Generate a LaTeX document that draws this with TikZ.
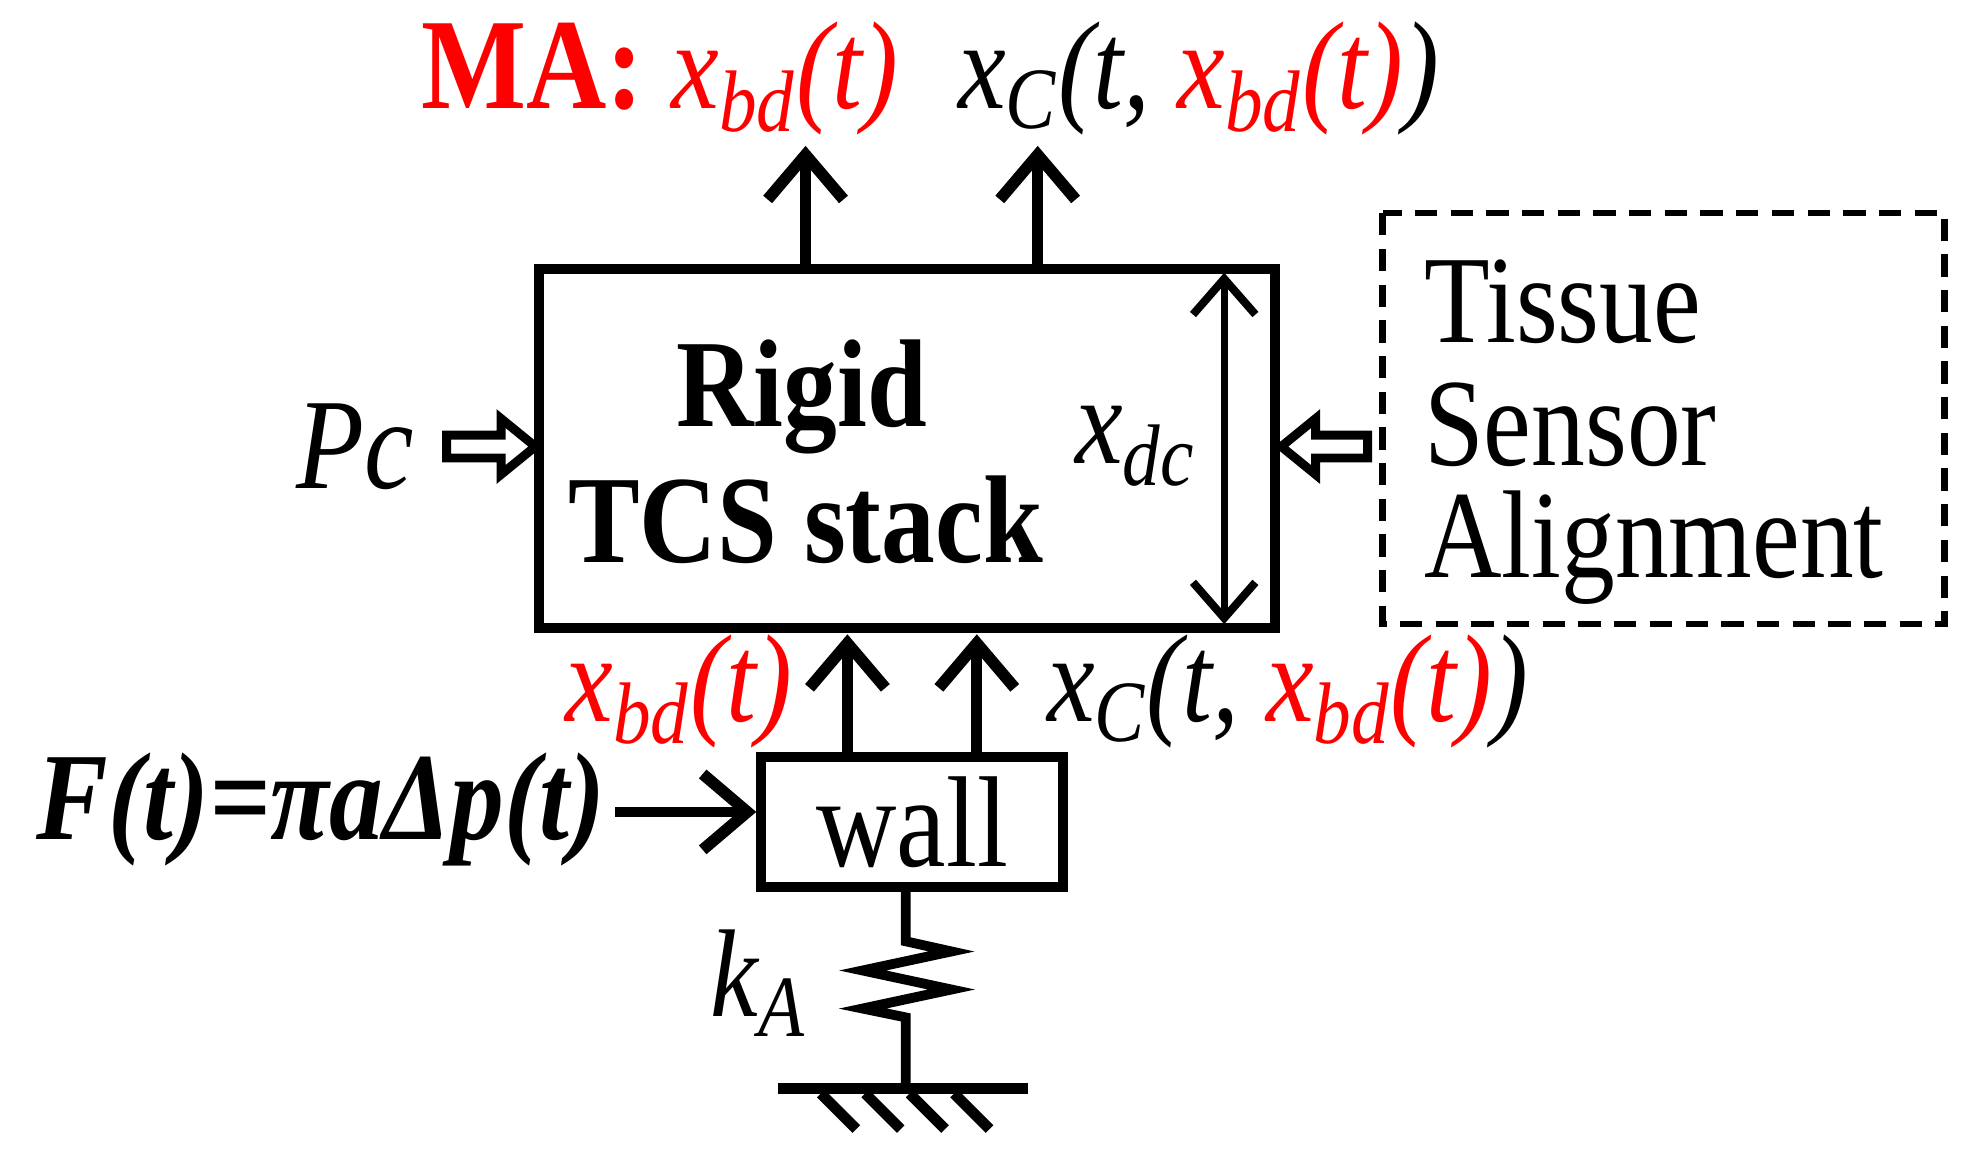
\documentclass[tikz,border=0pt]{standalone}
\usepackage{fontspec}
\setmainfont{Liberation Serif}
\usetikzlibrary{arrows.meta}
\newcommand{\nar}[1]{\scalebox{0.86}[1]{#1}}
\begin{document}
\begin{tikzpicture}[x=0.01cm,y=-0.01cm,
  thick box/.style={draw,line width=2.2pt},
  arr/.style={line width=2.4pt,-{Straight Barb[length=10pt,width=17pt,line width=2.6pt]}},
  txt/.style={font=\fontsize{28}{30}\selectfont,inner sep=0pt}]
\useasboundingbox (0,0) rectangle (1560,915);
\path[thick box] (425,212) rectangle (1005,495);
\node[txt,font=\fontsize{28}{30}\bfseries] (rigid) at (632,313) {\nar{Rigid}};
\node[txt,font=\fontsize{28}{30}\bfseries] (tcs) at (635,410) {\nar{TCS stack}};
% top arrows
\coordinate (t1) at (635,212); \coordinate (t1e) at (635,115);
\coordinate (t2) at (818,212); \coordinate (t2e) at (818,115);
\draw[arr] (t1) -- (t1e);
\draw[arr] (t2) -- (t2e);
\node[txt,text=red] (ma) at (520,62) {\nar{\fontsize{29}{30}\bfseries MA: \normalfont\itshape\fontsize{28}{30}\selectfont x\textsubscript{bd}(t)}};
\node[txt,font=\fontsize{28}{30}\itshape] (xc1) at (945,62) {\nar{x\textsubscript{C}(t, \textcolor{red}{x\textsubscript{bd}(t)})}};
% dashed box
\draw[line width=1.5pt,dash pattern=on 5pt off 3pt] (1090,168) rectangle (1533,492);
\node[txt,anchor=west] (ts) at (1122,238) {\nar{Tissue}};
\node[txt,anchor=west] (se) at (1122,335) {\nar{Sensor}};
\node[txt,anchor=west] (al) at (1122,432) {\nar{Alignment}};
% hollow arrows
\draw[line width=2pt,join=miter] (352,343) -- (395,343) -- (395,330) -- (422,352) -- (395,374) -- (395,361) -- (352,361) -- cycle;
\draw[line width=2pt,join=miter] (1078,343) -- (1037,343) -- (1037,330) -- (1010,352) -- (1037,374) -- (1037,361) -- (1078,361) -- cycle;
\node[txt,font=\fontsize{29}{30}\itshape] (pc) at (280,352) {\nar{Pc}};
% xdc
\coordinate (d1) at (965,215); \coordinate (d2) at (965,492);
\draw[line width=1.6pt,{Straight Barb[length=8pt,width=14pt,line width=1.8pt]}-{Straight Barb[length=8pt,width=14pt,line width=1.8pt]}] (d1) -- (d2);
\node[txt,font=\fontsize{28}{30}\itshape] (xdc) at (895,352) {\nar{x\textsubscript{dc}}};
% wall
\node[thick box,minimum width=238*0.01cm,minimum height=103*0.01cm,inner sep=0pt,font=\fontsize{29}{30}\selectfont] (wall) at (719,648) {\nar{wall}};
\coordinate (b1) at (668,597); \coordinate (b1e) at (668,500);
\coordinate (b2) at (770,597); \coordinate (b2e) at (770,500);
\draw[arr] (b1) -- (b1e);
\draw[arr] (b2) -- (b2e);
\node[txt,text=red,font=\fontsize{28}{30}\itshape] (xb2) at (535,545) {\nar{x\textsubscript{bd}(t)}};
\node[txt,font=\fontsize{28}{30}\itshape] (xc2) at (1015,545) {\nar{x\textsubscript{C}(t, \textcolor{red}{x\textsubscript{bd}(t)})}};
\node[txt,anchor=east,font=\fontsize{28}{30}\bfseries\itshape] (ft) at (478,638) {\nar{F(t)=πaΔp(t)}};
\coordinate (fs) at (485,640);
\draw[arr] (fs) -- (wall.west |- fs);
% spring
\draw[line width=2.2pt,join=miter] (714,700) -- (714,742) -- (750,750) -- (680,765) -- (750,780) -- (680,795) -- (714,802) -- (714,858);
\node[txt,font=\fontsize{28}{30}\itshape] (ka) at (598,775) {\nar{k\textsubscript{A}}};
\draw[line width=2.4pt] (613,858) -- (810,858);
\foreach \x in {682,717,752,787} \draw[line width=2.4pt] (\x-35,862) -- (\x-7,890);
\end{tikzpicture}
\end{document}
